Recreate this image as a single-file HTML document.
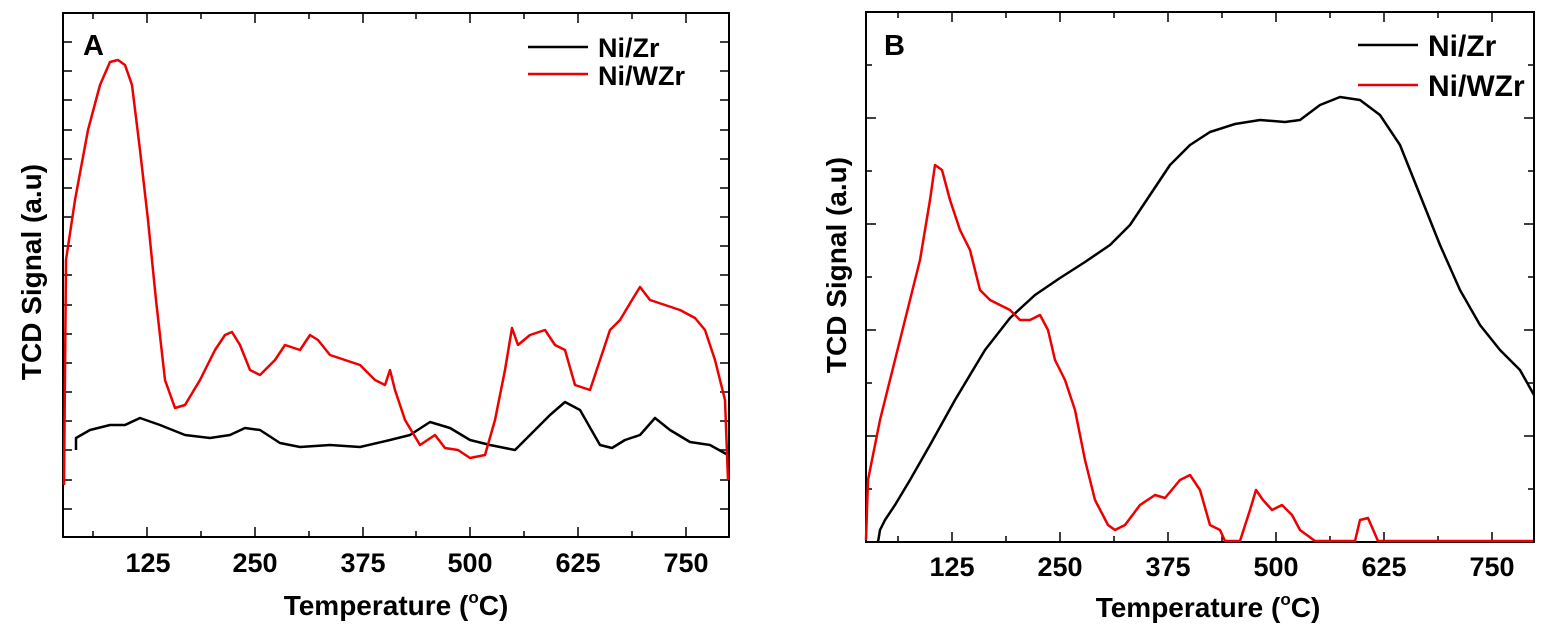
<!DOCTYPE html>
<html><head><meta charset="utf-8"><style>
body{margin:0;background:#fff;}
svg{display:block;font-family:"Liberation Sans",Arial,sans-serif;font-weight:bold;}
</style></head><body>
<svg width="1547" height="627" viewBox="0 0 1547 627">
<!-- Panel A -->
<rect x="63" y="13" width="666" height="524" fill="none" stroke="#000" stroke-width="2"/>
<g stroke="#000" stroke-width="1.5">
<path d="M93 537v-6M147 537v-10M201 537v-6M255 537v-10M309 537v-6M363 537v-10M416 537v-6M470 537v-10M524 537v-6M578 537v-10M632 537v-6M686 537v-10"/>
<path d="M93 13v6M147 13v10M201 13v6M255 13v10M309 13v6M363 13v10M416 13v6M470 13v10M524 13v6M578 13v10M632 13v6M686 13v10"/>
<path d="M63 42h9M63 71h9M63 100h9M63 130h9M63 159h9M63 188h9M63 217h9M63 246h9M63 275h9M63 305h9M63 334h9M63 363h9M63 392h9M63 421h9M63 450h9M63 480h9M63 509h9"/>
<path d="M729 42h-9M729 71h-9M729 100h-9M729 130h-9M729 159h-9M729 188h-9M729 217h-9M729 246h-9M729 275h-9M729 305h-9M729 334h-9M729 363h-9M729 392h-9M729 421h-9M729 450h-9M729 480h-9M729 509h-9"/>
</g>
<g font-size="27" text-anchor="middle">
<text x="148" y="572">125</text><text x="255" y="572">250</text><text x="363" y="572">375</text><text x="470" y="572">500</text><text x="578" y="572">625</text><text x="686" y="572">750</text>
</g>
<text x="396" y="615" font-size="28" text-anchor="middle">Temperature (<tspan font-size="17" dy="-12">o</tspan><tspan dy="12">C)</tspan></text>
<text transform="translate(41,272) rotate(-90)" font-size="28" text-anchor="middle">TCD Signal (a.u)</text>
<text x="83" y="55" font-size="29">A</text>
<line x1="528" y1="47" x2="588" y2="47" stroke="#000" stroke-width="2.5"/>
<line x1="528" y1="74" x2="588" y2="74" stroke="#e00" stroke-width="2.5"/>
<text x="598" y="57" font-size="27">Ni/Zr</text>
<text x="598" y="85" font-size="27">Ni/WZr</text>
<polyline fill="none" stroke="#000" stroke-width="2.5" stroke-linejoin="round" points="76,450 76,438 90,430 110,425 125,425 140,418 160,425 185,435 210,438 230,435 245,428 260,430 280,443 300,447 330,445 360,447 390,440 410,435 430,422 450,428 470,440 490,445 515,450 530,435 550,415 565,402 580,410 600,445 612,448 625,440 640,435 655,418 670,430 690,442 710,445 728,455"/>
<polyline fill="none" stroke="#e00" stroke-width="2.5" stroke-linejoin="round" points="64,485 66,260 75,200 88,130 100,85 110,62 118,60 125,65 132,85 140,150 148,220 156,300 165,380 175,408 185,405 200,380 215,350 225,335 232,332 240,345 250,370 260,375 275,360 285,345 300,350 310,335 318,340 330,355 345,360 360,365 375,380 385,385 390,370 395,390 405,420 420,445 435,435 445,448 458,450 470,458 485,455 495,420 505,370 512,328 518,345 530,335 545,330 555,345 565,350 575,385 590,390 600,360 610,330 620,320 632,300 640,287 650,300 665,305 680,310 695,318 705,330 715,360 725,400 728,480"/>

<!-- Panel B -->
<rect x="866" y="12" width="668" height="530" fill="none" stroke="#000" stroke-width="2"/>
<g stroke="#000" stroke-width="1.5">
<path d="M898 542v-6M952 542v-10M1006 542v-6M1060 542v-10M1114 542v-6M1168 542v-10M1222 542v-6M1276 542v-10M1330 542v-6M1384 542v-10M1438 542v-6M1492 542v-10"/>
<path d="M898 12v6M952 12v10M1006 12v6M1060 12v10M1114 12v6M1168 12v10M1222 12v6M1276 12v10M1330 12v6M1384 12v10M1438 12v6M1492 12v10"/>
<path d="M866 65h6M866 118h10M866 171h6M866 224h10M866 277h6M866 330h10M866 383h6M866 436h10M866 489h6"/>
<path d="M1534 65h-6M1534 118h-10M1534 171h-6M1534 224h-10M1534 277h-6M1534 330h-10M1534 383h-6M1534 436h-10M1534 489h-6"/>
</g>
<g font-size="27" text-anchor="middle">
<text x="952" y="576">125</text><text x="1060" y="576">250</text><text x="1168" y="576">375</text><text x="1276" y="576">500</text><text x="1384" y="576">625</text><text x="1492" y="576">750</text>
</g>
<text x="1208" y="617" font-size="28" text-anchor="middle">Temperature (<tspan font-size="17" dy="-12">o</tspan><tspan dy="12">C)</tspan></text>
<text transform="translate(846,265) rotate(-90)" font-size="28" text-anchor="middle">TCD Signal (a.u)</text>
<text x="884" y="55" font-size="29">B</text>
<line x1="1358" y1="45" x2="1418" y2="45" stroke="#000" stroke-width="2.5"/>
<line x1="1358" y1="85" x2="1418" y2="85" stroke="#e00" stroke-width="2.5"/>
<text x="1428" y="56" font-size="30">Ni/Zr</text>
<text x="1428" y="96" font-size="30">Ni/WZr</text>
<polyline fill="none" stroke="#000" stroke-width="2.5" stroke-linejoin="round" points="878,542 880,530 885,520 895,505 910,480 930,445 955,400 985,350 1010,318 1035,295 1060,278 1085,262 1110,245 1130,225 1150,195 1170,165 1190,145 1210,132 1235,124 1260,120 1285,122 1300,120 1320,105 1340,97 1360,100 1380,115 1400,145 1420,195 1440,245 1460,290 1480,325 1500,350 1520,370 1534,395"/>
<polyline fill="none" stroke="#e00" stroke-width="2.5" stroke-linejoin="round" points="866,540 868,480 880,420 900,340 920,260 930,200 935,165 942,170 950,200 960,230 970,250 980,290 990,300 1000,305 1010,310 1020,320 1030,320 1040,315 1048,330 1055,360 1065,380 1075,410 1085,460 1095,500 1108,525 1115,530 1125,525 1140,505 1155,495 1165,498 1180,480 1190,475 1200,490 1210,525 1220,530 1225,541 1240,541 1250,510 1256,490 1263,500 1272,510 1282,505 1292,515 1300,530 1315,541 1355,541 1360,520 1368,518 1378,541 1533,541"/>
</svg>
</body></html>
